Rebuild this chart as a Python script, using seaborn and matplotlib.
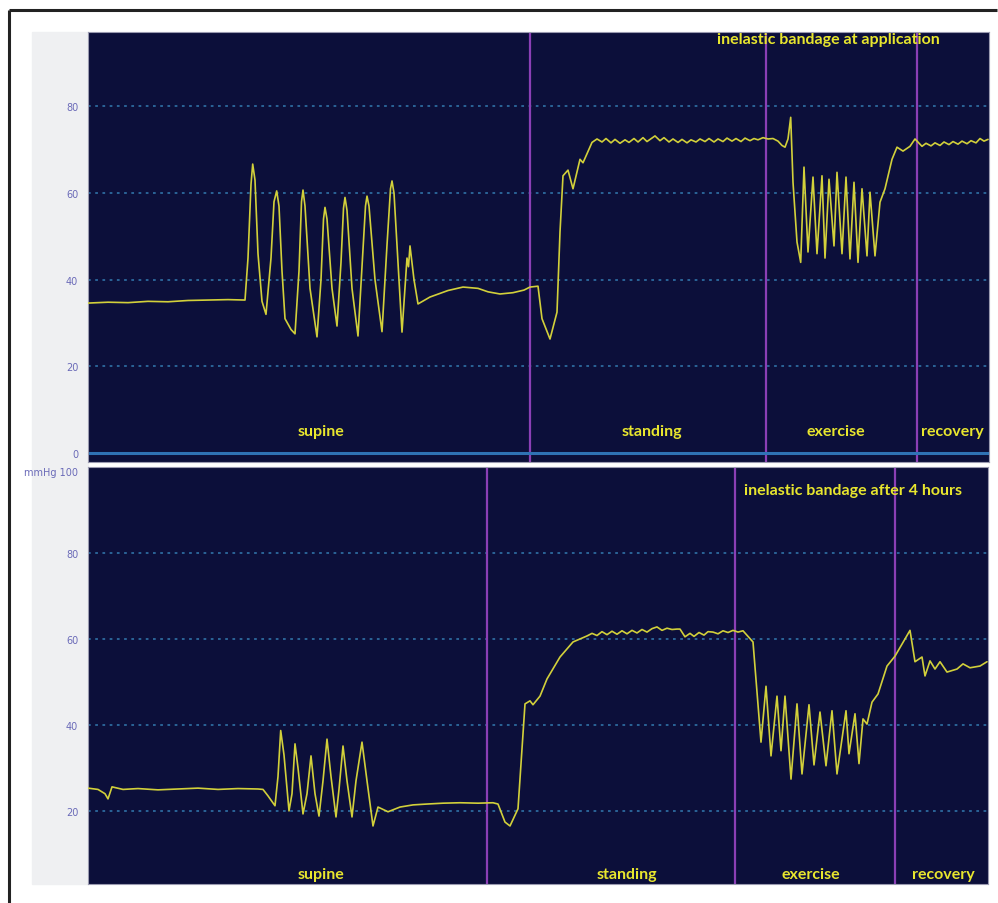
import matplotlib
matplotlib.use("Agg")
import matplotlib.pyplot as plt
import seaborn as sns
from matplotlib.patches import Rectangle
from matplotlib.lines import Line2D

# ---------------- data (time in arbitrary units, pressure in mmHg) ----------------
top_t = [0, 20, 40, 60, 80, 100, 120, 140, 157, 160, 163, 164.7, 167, 170, 174, 178,
         183, 186, 188.7, 191, 194, 197, 203, 207, 211, 213.5, 215, 217, 222, 229,
         233, 235.5, 237, 239, 244, 249, 253, 255.5, 257, 259, 264, 270, 274, 277.5,
         279, 281, 287, 294, 299, 302.5, 304, 306, 311, 314, 317, 319, 320.5, 322,
         326, 330, 342, 360, 375, 390, 400, 412, 425, 436, 442, 450, 454, 462, 469,
         472, 475, 480, 485, 492, 495, 504, 509, 514, 518, 523, 527, 532, 537, 541,
         546, 550, 555, 559, 564, 567, 572, 576, 581, 585, 590, 594, 599, 603, 608,
         612, 617, 621, 626, 630, 635, 639, 644, 648, 653, 657, 662, 666, 670, 675,
         680, 685, 690, 694, 697, 700, 702.7, 705, 709, 712.7, 716, 720, 725, 729,
         734, 737, 741, 746, 749, 754, 758, 762, 766, 770, 774, 779, 782, 787, 792,
         797, 804, 809, 815, 822, 827, 834, 838, 843, 847, 852, 856, 861, 865, 870,
         874, 879, 883, 888, 892, 896, 900]
top_p = [34.6, 34.8, 34.7, 35.0, 34.9, 35.2, 35.3, 35.4, 35.3, 45, 62, 66.7, 63, 46, 35, 32,
         45, 58, 60.5, 57, 42, 31, 28.5, 27.5, 42, 58, 60.7, 57, 38, 26.8,
         40, 54, 56.7, 54, 38, 29.3, 44, 56.5, 59, 56, 38, 27, 43, 57,
         59.3, 57, 40, 28, 48, 61, 62.8, 60, 40, 27.9, 38, 45, 43, 47.8,
         40, 34.4, 36, 37.5, 38.3, 38.0, 37.2, 36.7, 37.0, 37.6, 38.3, 38.5, 31, 26.3, 32.5,
         51, 64, 65.3, 61, 67.8, 67, 71.7, 72.5, 71.8, 72.6, 71.6, 72.4, 71.5, 72.3, 71.7,
         72.6, 71.8, 72.8, 71.9, 72.7, 73.2, 72.1, 72.8, 71.8, 72.5, 71.7, 72.4, 71.6, 72.3, 71.8,
         72.5, 71.9, 72.6, 71.8, 72.5, 71.9, 72.7, 72.0, 72.6, 71.9, 72.7, 72.1, 72.6, 72.3, 72.8,
         72.5, 72.6, 72.0, 71.0, 70.6, 72.5, 77.5, 62.5, 48.7, 44, 66, 46.4, 63.7, 46,
         64, 45, 63.2, 47.8, 64.8, 46, 63.7, 44.8, 62.5, 44, 61, 45.5, 60.2, 45.5, 57.9,
         61, 67.8, 70.6, 69.7, 70.8, 72.5, 70.8, 71.5, 70.9, 71.6, 71.0, 71.8, 71.2, 71.9, 71.3,
         72.0, 71.4, 72.1, 71.6, 72.6, 72.0, 72.4]

bot_t = [0, 10, 17, 20, 24, 35, 50, 70, 90, 110, 130, 150, 170, 175, 180, 187,
         190, 192.7, 196, 201, 204, 207, 210, 215, 219, 223, 227, 231, 235, 239,
         243, 248, 251, 255, 259, 264, 268, 274, 279, 285, 290, 300, 312, 325, 339,
         355, 372, 390, 405, 410, 417, 422, 430, 434, 437, 442, 445, 452, 459, 472,
         485, 499, 504, 509, 514, 519, 524, 529, 534, 539, 544, 549, 554, 559, 564,
         569, 574, 579, 584, 589, 592, 597, 602, 606, 611, 616, 620, 625, 630, 635,
         640, 645, 650, 655, 665, 669, 673, 678, 683, 689, 693, 697, 703, 709, 714,
         721, 726, 732, 738, 744, 749, 758, 761, 767, 771, 775, 779, 784, 790, 799,
         807, 814, 822, 827, 834, 837, 842, 847, 852, 859, 869, 875, 882, 892, 899]
bot_p = [25.3, 25.0, 24.0, 22.8, 25.6, 25.0, 25.2, 24.9, 25.1, 25.3, 25.0, 25.2, 25.1, 25.0, 23.5, 21.2,
         28, 38.7, 33, 20, 24, 35.6, 30, 19.3, 24, 32.8, 24, 18.8, 27, 36.7,
         28, 18.6, 25, 35.1, 27, 18.6, 27, 36, 27, 16.5, 20.9, 19.8, 20.9, 21.4, 21.6,
         21.8, 21.9, 21.8, 21.9, 21.6, 17.4, 16.5, 20.5, 34.4, 44.9, 45.6, 44.7, 46.7, 50.7, 55.8,
         59.3, 60.7, 61.3, 60.8, 61.7, 61.0, 61.8, 61.1, 61.9, 61.2, 62.0, 61.4, 62.2, 61.6, 62.4,
         62.8, 62.0, 62.5, 62.2, 62.3, 62.3, 60.5, 61.3, 60.6, 61.5, 60.9, 61.7, 61.6, 61.2, 61.9,
         61.5, 62.0, 61.6, 61.9, 59.3, 47.7, 36, 49, 32.8, 46.7, 34, 46.7, 27.4, 44.9, 28.6,
         44.7, 30.7, 43, 30.5, 43.3, 28.6, 43.3, 33.3, 42.6, 31, 41.4, 40.2, 45.3, 47.2, 53.7,
         56, 58.8, 62, 54.7, 55.8, 51.4, 54.9, 53, 54.7, 52.3, 53, 54.2, 53.3, 53.7, 54.7]

phases = ["supine", "standing", "exercise", "recovery"]
top_marks = [442, 678, 829]
bot_marks = [399, 647, 807]
top_label_t = [233, 564, 748, 864]
bot_label_t = [233, 539, 723, 855]
top_ticks = [0, 20, 40, 60, 80]
bot_ticks = [20, 40, 60, 80, 100]
bot_ticklabels = ["20", "40", "60", "80", "mmHg 100"]

# ---------------- style ----------------
sns.set_style("dark")
plt.rcParams["font.family"] = ["Lato", "DejaVu Sans"]

NAVY = "#0c0f3a"
TRACE = "#d2d03a"
PURPLE = "#8b3fb5"
GRID = "#2d6a9e"
TEXT = "#e8e62e"
TICK = "#6a6ab8"
NARROW = ["Liberation Sans Narrow", "DejaVu Sans"]

fig = plt.figure(figsize=(9.98, 9.04), dpi=100)
fig.patch.set_linewidth(0)
W, H = 998, 904

def fx(px):
    return px / W

def fy(py):
    return 1 - py / H

# outer frame (top and left only) and grey label strip
fig.add_artist(Line2D([fx(9), fx(9)], [fy(11), 0], color="#222222", lw=2.2,
                      solid_capstyle="butt"))
fig.add_artist(Line2D([fx(9), fx(997)], [fy(11), fy(11)], color="#222222", lw=2.2,
                      solid_capstyle="butt"))
fig.add_artist(Rectangle((fx(32), fy(885)), fx(88) - fx(32), fy(33) - fy(885),
                         transform=fig.transFigure, color="#eff0f2", zorder=0))

ax1 = fig.add_axes([fx(88), fy(463), fx(989) - fx(88), fy(33) - fy(463)])
ax2 = fig.add_axes([fx(88), fy(885), fx(988) - fx(88), fy(468) - fy(885)])

panels = [
    (ax1, top_t, top_p, top_marks, top_label_t, (-2.1, 97.2), (0, 901), 5.1,
     "inelastic bandage at application", 740, 95.6),
    (ax2, bot_t, bot_p, bot_marks, bot_label_t, (3.0, 100.0), (0, 900), 5.4,
     "inelastic bandage after 4 hours", 765, 94.7),
]

for ax, t, p, marks, lab_t, ylim, xlim, lab_y, title, title_t, title_y in panels:
    ax.set_facecolor(NAVY)
    for v in range(20, 101, 20):
        ax.axhline(v, color=GRID, lw=1.3, ls=(0, (1.5, 2.5)), zorder=1)
    for m in marks:
        ax.axvline(m, color=PURPLE, lw=1.6, zorder=2)
    sns.lineplot(x=t, y=p, ax=ax, color=TRACE, linewidth=1.2, sort=False,
                 estimator=None, zorder=3)
    for name, lt in zip(phases, lab_t):
        ax.text(lt, lab_y, name, color=TEXT, fontsize=11.5, fontweight="bold",
                ha="center", va="center")
    ax.text(title_t, title_y, title, color=TEXT, fontsize=11.5, fontweight="bold",
            ha="center", va="center")
    ax.set_xlim(*xlim)
    ax.set_ylim(*ylim)
    ax.set_xticks([])
    ax.set_xlabel("")
    ax.set_ylabel("")
    for s in ax.spines.values():
        s.set_color("#9a9ab0")
        s.set_linewidth(0.8)
    ax.tick_params(axis="y", length=0, pad=7, labelsize=7, labelcolor=TICK)
    ax.grid(False)

ax1.axhline(0, color="#2f72b5", lw=2.2, zorder=2)
ax1.set_yticks(top_ticks)
ax1.set_yticklabels([str(v) for v in top_ticks], family=NARROW)
ax2.set_yticks(bot_ticks)
ax2.set_yticklabels(bot_ticklabels, family=NARROW)
ax2.get_yticklabels()[-1].set_va("top")

fig.savefig("out.png", dpi=100, facecolor="white")
